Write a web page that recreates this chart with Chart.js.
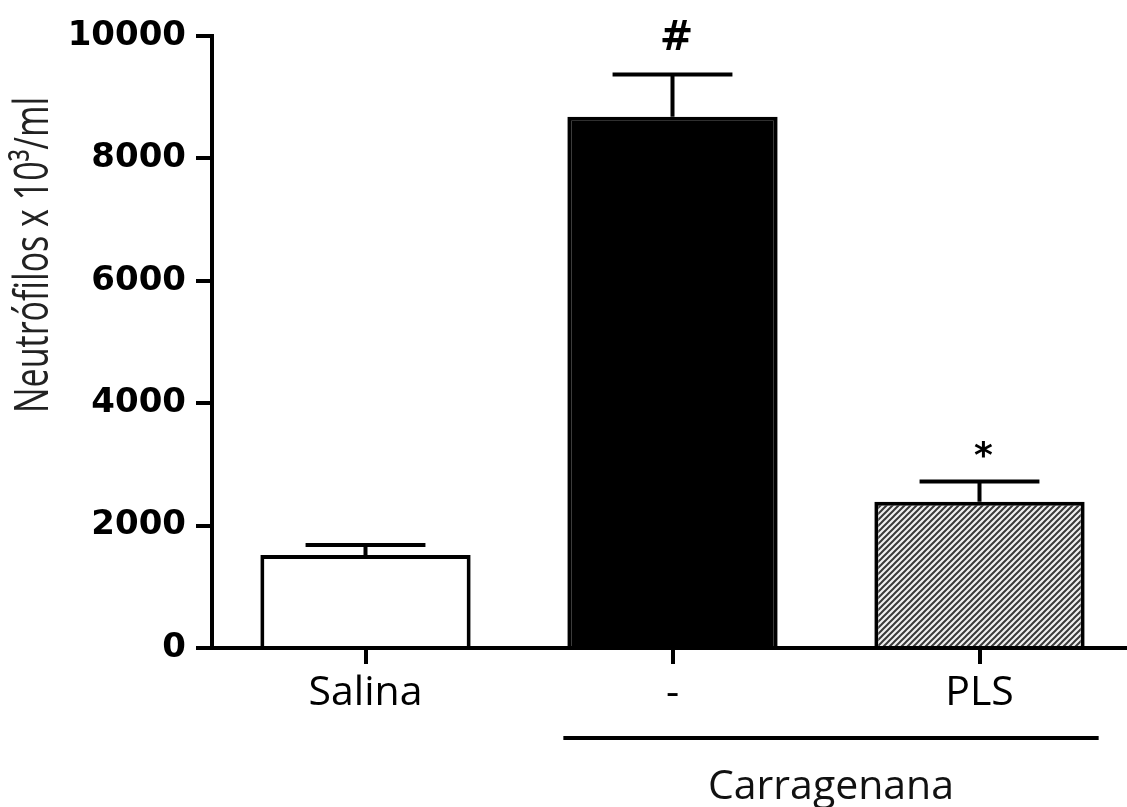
<!DOCTYPE html>
<html>
<head>
<meta charset="utf-8">
<script src="https://cdn.jsdelivr.net/npm/chart.js@4.4.1/dist/chart.umd.min.js"></script>
<style>
  html, body { margin: 0; padding: 0; background: #fff; overflow: hidden; }
  #wrap { width: 1127px; height: 807px; overflow: hidden; }
</style>
</head>
<body>
<div id="wrap"><canvas id="chart" width="1133" height="807"></canvas></div>
<script>
// data
const categories = ['Salina', '-', 'PLS'];
const means = [1520, 8680, 2390];
const sems = [165, 690, 330];
const marks = ['', '#', '*'];
const yTicks = [0, 2000, 4000, 6000, 8000, 10000];
const groupLabel = 'Carragenana';
const groupMembers = [1, 2];
const yTitle = 'Neutrófilos x 10³/ml';

// diagonal hatch for the PLS bar
function hatchPattern() {
  const s = 6;
  const p = document.createElement('canvas');
  p.width = s; p.height = s;
  const g = p.getContext('2d');
  g.fillStyle = '#f0f0f0';
  g.fillRect(0, 0, s, s);
  g.strokeStyle = '#3a3a3a';
  g.lineWidth = 2;
  g.beginPath();
  g.moveTo(-1, s + 1); g.lineTo(s + 1, -1);
  g.moveTo(-1, 1); g.lineTo(1, -1);
  g.moveTo(s - 1, s + 1); g.lineTo(s + 1, s - 1);
  g.stroke();
  return document.getElementById('chart').getContext('2d').createPattern(p, 'repeat');
}

// error bars, significance marks, group bracket and y title
const extras = {
  id: 'extras',
  afterDatasetsDraw(chart) {
    const ctx = chart.ctx;
    const y = chart.scales.y;
    const bars = chart.getDatasetMeta(0).data;
    ctx.save();
    ctx.strokeStyle = '#000';
    ctx.fillStyle = '#000';
    ctx.lineWidth = 4;
    bars.forEach((bar, i) => {
      const yv = y.getPixelForValue(means[i]);
      const ye = y.getPixelForValue(means[i] + sems[i]);
      const half = bar.width * 0.285;
      ctx.beginPath();
      ctx.moveTo(bar.x, yv);
      ctx.lineTo(bar.x, ye);
      ctx.moveTo(bar.x - half, ye);
      ctx.lineTo(bar.x + half, ye);
      ctx.stroke();
      if (marks[i]) {
        ctx.font = marks[i] === '#' ? 'bold 40px "DejaVu Sans"' : 'bold 36px "DejaVu Sans"';
        ctx.textAlign = 'center';
        ctx.textBaseline = 'middle';
        ctx.fillText(marks[i], bar.x + 4, ye - (marks[i] === '*' ? 24 : 35));
      }
    });
    ctx.restore();
  },
  afterDraw(chart) {
    const ctx = chart.ctx;
    const x = chart.scales.x;
    const a = chart.getDatasetMeta(0).data[groupMembers[0]];
    const b = chart.getDatasetMeta(0).data[groupMembers[1]];
    const x0 = a.x - a.width / 2 - 4;
    const x1 = b.x + b.width / 2 + 14;
    const ly = x.bottom + 30;
    ctx.save();
    ctx.strokeStyle = '#000';
    ctx.lineWidth = 4;
    ctx.beginPath();
    ctx.moveTo(x0, ly);
    ctx.lineTo(x1, ly);
    ctx.stroke();
    ctx.fillStyle = '#111';
    ctx.font = '41px "Open Sans"';
    ctx.textAlign = 'center';
    ctx.textBaseline = 'alphabetic';
    ctx.fillText(groupLabel, (x0 + x1) / 2, ly + 61);

    // rotated y title
    ctx.translate(34, 255);
    ctx.rotate(-Math.PI / 2);
    ctx.scale(1, 1.4);
    ctx.fillStyle = '#222';
    ctx.font = '34px "Open Sans"';
    ctx.textAlign = 'center';
    ctx.textBaseline = 'middle';
    ctx.fillText(yTitle, 0, 0);
    ctx.restore();
  }
};

new Chart(document.getElementById('chart').getContext('2d'), {
  type: 'bar',
  data: {
    labels: categories,
    datasets: [{
      data: means,
      backgroundColor: ['#ffffff', '#000000', hatchPattern()],
      borderColor: '#000',
      borderWidth: 4,
      borderSkipped: 'bottom',
      barPercentage: 0.685,
      categoryPercentage: 1
    }]
  },
  options: {
    responsive: false,
    animation: false,
    layout: { padding: { left: 0, right: 0, top: 36, bottom: 99 } },
    plugins: { legend: { display: false }, tooltip: { enabled: false } },
    scales: {
      x: {
        afterFit: s => { s.height = 60; },
        grid: { offset: false, drawOnChartArea: false, tickLength: 16, lineWidth: 4, color: '#000' },
        border: { color: '#000', width: 4 },
        ticks: { color: '#000', padding: 5, font: { family: 'Open Sans', size: 41 } }
      },
      y: {
        min: 0,
        max: 10000,
        afterFit: s => { s.width = 212; },
        afterBuildTicks: s => { s.ticks = yTicks.map(v => ({ value: v })); },
        grid: { drawOnChartArea: false, tickLength: 16, lineWidth: 4, color: '#000' },
        border: { color: '#000', width: 4 },
        ticks: {
          color: '#000',
          padding: 10,
          font: { family: 'DejaVu Sans', size: 34, weight: 'bold' },
          callback: v => String(v)
        }
      }
    }
  },
  plugins: [extras]
});
</script>
</body>
</html>
